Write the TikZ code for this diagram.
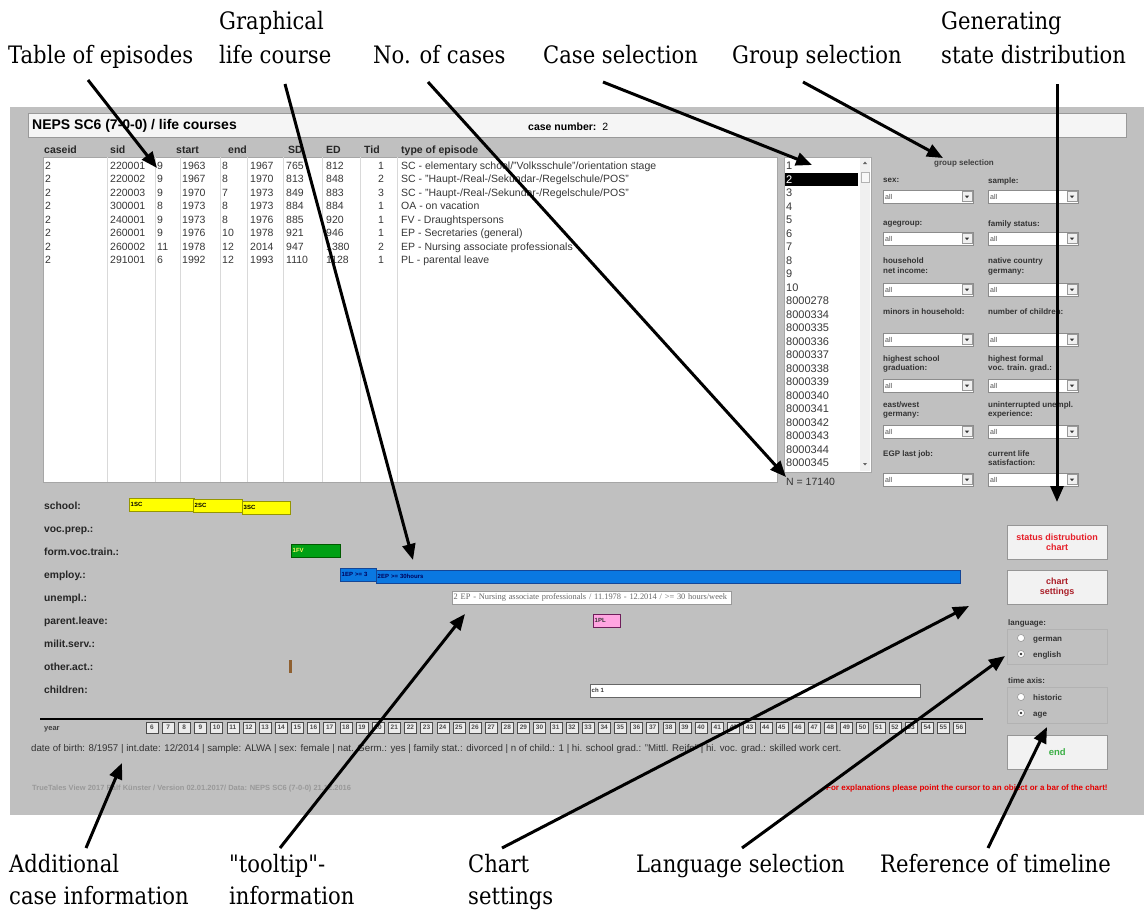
\documentclass[tikz,border=0pt]{standalone}
\usepackage{fontspec}
\setmainfont{Liberation Sans}
\newfontfamily\annfont[FakeStretch=0.88]{DejaVu Serif}
\newfontfamily\tipfont{Liberation Serif}
\usetikzlibrary{arrows.meta,positioning,calc}

\definecolor{wingray}{RGB}{192,192,192}
\definecolor{panelline}{RGB}{150,150,150}
\definecolor{barylw}{RGB}{255,255,0}
\definecolor{barylwline}{RGB}{150,150,0}
\definecolor{bargrn}{RGB}{0,160,20}
\definecolor{bargrnline}{RGB}{0,90,0}
\definecolor{barblu}{RGB}{10,120,225}
\definecolor{barbluline}{RGB}{20,70,150}
\definecolor{barpnk}{RGB}{255,165,225}
\definecolor{barpnkline}{RGB}{110,30,90}
\definecolor{btnred}{RGB}{230,30,40}
\definecolor{btndred}{RGB}{170,30,40}
\definecolor{btngrn}{RGB}{60,175,70}
\definecolor{celltxt}{RGB}{55,55,55}

\tikzset{
  ann/.style={line width=3pt, -{Triangle[length=16pt,width=13pt]}},
  annlbl/.style={font=\annfont\fontsize{24}{28}\selectfont, anchor=base west, inner sep=0pt},
  cell/.style={font=\fontsize{10.5}{10.5}\selectfont, anchor=base west, inner sep=0pt, text=celltxt},
  hdr/.style={font=\bfseries\fontsize{10.5}{10.5}\selectfont, anchor=base west, inner sep=0pt, text=black!85},
  rowlbl/.style={font=\bfseries\fontsize{10.3}{10.3}\selectfont, anchor=base west, inner sep=0pt, text=black!85},
  grplbl/.style={font=\bfseries\fontsize{8}{9.8}\selectfont, anchor=north west, inner sep=0pt, align=left, text=black!80},
  ebar/.style={draw, anchor=north west, inner xsep=1.5pt, inner ysep=0pt, minimum height=13pt,
    align=left, font=\bfseries\fontsize{6}{6}\selectfont},
  btn/.style={draw=panelline, fill=black!5, minimum width=100pt, minimum height=34pt, align=center,
    font=\bfseries\fontsize{9}{10.5}\selectfont, anchor=north west},
  yrbox/.style={draw=black!70, fill=black!8, minimum width=12pt, minimum height=11pt, inner sep=0pt,
    font=\bfseries\fontsize{6.5}{6.5}\selectfont, text=black!70},
  radio/.style={circle, draw=black!50, fill=white, minimum size=7pt, inner sep=0pt},
  smalltxt/.style={anchor=base west, inner sep=0pt}
}

% dropdown field: name, left x, top y
\newcommand{\dropsel}[3]{%
  \draw[black!45, fill=white] (#2,#3) rectangle ++(90,13);
  \node[anchor=base west, inner sep=0pt, font=\fontsize{7}{7}\selectfont, text=black!70] (#1) at (#2+2,#3+9) {all};
  \draw[black!40, fill=black!6] (#2+79,#3+1.5) rectangle ++(10,10);
  \fill[black!80] (#2+81.8,#3+5.5) -- ++(4.4,0) -- ++(-2.2,2.6) -- cycle;
}

\begin{document}
\begin{tikzpicture}[x=1pt,y=-1pt]
\useasboundingbox (0,0) rectangle (1144,910);
\fill[white] (0,0) rectangle (1144,910);

% --- Screenshot frame + title bar
\fill[wingray] (10,107) rectangle (1144,815);
\draw[black!40, fill=black!4] (28,113) rectangle (1126,137);
\node[font=\bfseries\fontsize{14}{14}\selectfont, anchor=base west, inner sep=0pt] (title) at (32,129) {NEPS SC6 (7-0-0) / life courses};
\node[font=\fontsize{10.5}{10.5}\selectfont, anchor=base west, inner sep=0pt] (casenr) at (528,130) {\textbf{case number:}\ \ 2};

% --- Table of episodes
\foreach \h/\x in {caseid/44, sid/110, start/176, end/228, SD/288, ED/326, Tid/364, type of episode/401}
  \node[hdr] (h\x) at (\x,153) {\h};
\fill[white] (43,157) rectangle (777,482);
\draw[black!35] (43,157) rectangle (777,482);
\foreach \x in {107,155,180,220,247,283,322,360,397}
  \draw[black!15] (\x,157) -- (\x,482);
\foreach \sid/\ma/\ya/\mb/\yb/\sd/\ed/\tid/\typ [count=\i] in {
  220001/9/1963/8/1967/765/812/1/{SC - elementary school/"Volksschule"/orientation stage},
  220002/9/1967/8/1970/813/848/2/{SC - "Haupt-/Real-/Sekundar-/Regelschule/POS"},
  220003/9/1970/7/1973/849/883/3/{SC - "Haupt-/Real-/Sekundar-/Regelschule/POS"},
  300001/8/1973/8/1973/884/884/1/{OA - on vacation},
  240001/9/1973/8/1976/885/920/1/{FV - Draughtspersons},
  260001/9/1976/10/1978/921/946/1/{EP - Secretaries (general)},
  260002/11/1978/12/2014/947/1380/2/{EP - Nursing associate professionals},
  291001/6/1992/12/1993/1110/1128/1/{PL - parental leave}}
{
  \pgfmathsetmacro{\yy}{169+13.5*(\i-1)}
  \node[cell] (cid\i) at (45,\yy) {2};
  \node[cell] (sid\i) at (110,\yy) {\sid};
  \node[cell] (ma\i) at (157,\yy) {\ma};
  \node[cell] (ya\i) at (182,\yy) {\ya};
  \node[cell] (mb\i) at (222,\yy) {\mb};
  \node[cell] (yb\i) at (250,\yy) {\yb};
  \node[cell] (sd\i) at (286,\yy) {\sd};
  \node[cell] (ed\i) at (326,\yy) {\ed};
  \node[cell] (tid\i) at (378,\yy) {\tid};
  \node[cell] (typ\i) at (401,\yy) {\typ};
}

% --- Case list
\fill[white] (784,157) rectangle (871,472);
\draw[black!35] (784,157) rectangle (871,472);
\fill[black!6] (860,158) rectangle (870,471);
\draw[black!30, fill=black!3] (861,172) rectangle (869,182);
\fill[black!60] (863,164) -- ++(4,0) -- ++(-2,-2.5) -- cycle;
\fill[black!60] (863,463) -- ++(4,0) -- ++(-2,2.5) -- cycle;
\fill[black] (785,173) rectangle (858,186);
\foreach \v [count=\i] in {1,2,3,4,5,6,7,8,9,10,8000278,8000334,8000335,8000336,8000337,8000338,8000339,8000340,8000341,8000342,8000343,8000344,8000345}
  \node[cell, font=\fontsize{11}{11}\selectfont] (case\i) at (786,{169.5+13.5*(\i-1)}) {\v};
\node[cell, text=white, font=\fontsize{11}{11}\selectfont] (caseSel) at (786,183) {2};
\node[smalltxt, font=\fontsize{10.5}{10.5}\selectfont, text=black!80] (ncases) at (786,485) {N = 17140};

% --- Group selection
\node[font=\bfseries\fontsize{8}{8}\selectfont, text=black!75] (grpsel) at (964,163) {group selection};
\foreach \nm/\x/\y/\txt in {
  sex/883/178/{sex:}, sample/988/178/{sample:},
  agegrp/883/221/{agegroup:}, famst/988/221/{family status:},
  hhinc/883/258/{household\\net income:}, native/988/258/{native country\\germany:},
  minors/883/309/{minors in household:}, nchild/988/309/{number of children:},
  school/883/355/{highest school\\graduation:}, voctrain/988/355/{highest formal\\voc. train. grad.:},
  eastwest/883/401/{east/west\\germany:}, unempl/988/401/{uninterrupted unempl.\\experience:},
  egp/883/450/{EGP last job:}, lifesat/988/450/{current life\\satisfaction:}}
  \node[grplbl] (g\nm) at (\x,\y) {\txt};
\foreach \y [count=\i] in {190,232,283,333,379,425,473} {
  \dropsel{dl\i}{883}{\y}
  \dropsel{dr\i}{988}{\y}
}

% --- Graphical life course
\foreach \lbl [count=\i] in {school:,voc.prep.:,form.voc.train.:,employ.:,unempl.:,parent.leave:,milit.serv.:,other.act.:,children:}
  \node[rowlbl] (row\i) at (44,{509+23*(\i-1)}) {\lbl};
\node[ebar, fill=barylw, draw=barylwline, text width=62pt] (sc1) at (129,498) {1SC};
\node[ebar, fill=barylw, draw=barylwline, text width=46pt] (sc2) at (193,499) {2SC};
\node[ebar, fill=barylw, draw=barylwline, text width=45pt] (sc3) at (242,501) {3SC};
\node[ebar, fill=bargrn, draw=bargrnline, text=yellow!60!white, text width=46pt] (fv1) at (291,544) {1FV};
\node[ebar, fill=barblu, draw=barbluline, text=blue!35!black, text width=33pt] (ep1) at (340,568) {1EP >= 3};
\node[ebar, fill=barblu, draw=barbluline, text=blue!35!black, text width=581pt] (ep2) at (376,570) {2EP >= 30hours};
\node[draw=black!40, fill=white, anchor=north west, minimum height=13pt, inner xsep=1.5pt, inner ysep=0pt,
  text width=276pt, align=left, font=\tipfont\fontsize{8.4}{8.4}\selectfont, text=black!60] (tip) at (452,591)
  {2 EP - Nursing associate professionals / 11.1978 - 12.2014 / >= 30 hours/week};
\node[ebar, fill=barpnk, draw=barpnkline, text=black!80, text width=24pt] (pl1) at (593,614) {1PL};
\node[fill=brown!75!black, anchor=north west, minimum width=3pt, minimum height=13pt, inner sep=0pt] (oa1) at (289,660) {};
\node[ebar, fill=white, draw=black!60, text=black!80, text width=327pt] (ch1) at (590,684) {ch 1};

% --- Timeline
\draw[line width=2.5pt] (40,719) -- (983,719);
\node[font=\bfseries\fontsize{7.5}{7.5}\selectfont, anchor=base west, inner sep=0pt, text=black!75] (yearlbl) at (44,730) {year};
\foreach \a [count=\i] in {6,...,56}
  \node[yrbox] (yr\a) at ({152+16.15*(\i-1)},727.5) {\a};

% --- Case info + footer
\node[smalltxt, font=\fontsize{9.7}{9.7}\selectfont, text=black!80] (caseinfo) at (31,751)
  {date of birth: 8/1957 | int.date: 12/2014 | sample: ALWA | sex: female | nat. Germ.: yes | family stat.: divorced | n of child.: 1 | hi. school grad.: "Mittl. Reife" | hi. voc. grad.: skilled work cert.};
\node[smalltxt, font=\bfseries\fontsize{7.5}{7.5}\selectfont, text=black!40] (footer) at (32,790)
  {TrueTales View 2017 Ralf Künster / Version 02.01.2017/ Data: NEPS SC6 (7-0-0) 21.12.2016};
\node[smalltxt, font=\bfseries\fontsize{8}{8}\selectfont, text=red!90!black] (hint) at (826,790)
  {For explanations please point the cursor to an object or a bar of the chart!};

% --- Buttons and options
\node[btn, text=btnred] (statbtn) at (1007,525) {status distrubution\\chart};
\node[btn, text=btndred] (setbtn) at (1007,570) {chart\\settings};
\node[grplbl] (langlbl) at (1008,619) {language:};
\draw[black!30] (1007,629) rectangle (1107,664);
\node[radio] (rger) at (1021,638) {};
\node[radio] (reng) at (1021,654) {};
\fill[black!80] (reng) circle (1.4);
\node[grplbl, anchor=base west] (tger) at (1033,641) {german};
\node[grplbl, anchor=base west] (teng) at (1033,657) {english};
\node[grplbl] (timelbl) at (1008,677) {time axis:};
\draw[black!30] (1007,687) rectangle (1107,723);
\node[radio] (rhist) at (1021,697) {};
\node[radio] (rage) at (1021,713) {};
\fill[black!80] (rage) circle (1.4);
\node[grplbl, anchor=base west] (thist) at (1033,700) {historic};
\node[grplbl, anchor=base west] (tage) at (1033,716) {age};
\node[btn, text=btngrn, font=\bfseries\fontsize{9.5}{10}\selectfont] (endbtn) at (1007,735) {end};

% --- Annotation labels
\node[annlbl] (lTab) at (8,63) {Table of episodes};
\node[annlbl] (lGraph) at (219,30) {Graphical};
\node[annlbl] (lGraph2) at (219,63) {life course};
\node[annlbl] (lCases) at (373,63) {No. of cases};
\node[annlbl] (lCase) at (543,63) {Case selection};
\node[annlbl] (lGroup) at (732,63) {Group selection};
\node[annlbl] (lGen) at (941,30) {Generating};
\node[annlbl] (lGen2) at (941,63) {state distribution};
\node[annlbl] (lAdd) at (9,872) {Additional};
\node[annlbl] (lAdd2) at (9,904) {case information};
\node[annlbl] (lTip) at (229,872) {"tooltip"-};
\node[annlbl] (lTip2) at (229,904) {information};
\node[annlbl] (lChart) at (468,872) {Chart};
\node[annlbl] (lChart2) at (468,904) {settings};
\node[annlbl] (lLang) at (636,872) {Language selection};
\node[annlbl] (lRef) at (880,872) {Reference of timeline};

% --- Annotation arrows
\coordinate (aTab) at (88,80);      \coordinate (tTab) at (157,168);
\coordinate (aGraph) at (285,84);   \coordinate (tGraph) at (413,560);
\coordinate (aCases) at (428,82);   \coordinate (tCases) at (786,477);
\coordinate (aCase) at (603,82);    \coordinate (tCase) at (812,165);
\coordinate (aGroup) at (803,82);   \coordinate (tGroup) at (943,158);
\coordinate (aGen) at (1057,84);    \coordinate (tGen) at (1057,502);
\coordinate (aAdd) at (86,848);     \coordinate (tAdd) at (122,763);
\coordinate (aTip) at (280,848);    \coordinate (tTip) at (465,614);
\coordinate (aChart) at (502,848);  \coordinate (tChart) at (969,606);
\coordinate (aLang) at (742,848);   \coordinate (tLang) at (1005,656);
\coordinate (aRef) at (988,848);    \coordinate (tRef) at (1047,727);
\foreach \n in {Tab,Graph,Cases,Case,Group,Gen,Add,Tip,Chart,Lang,Ref}
  \draw[ann] (a\n) -- (t\n);

\end{tikzpicture}
\end{document}
